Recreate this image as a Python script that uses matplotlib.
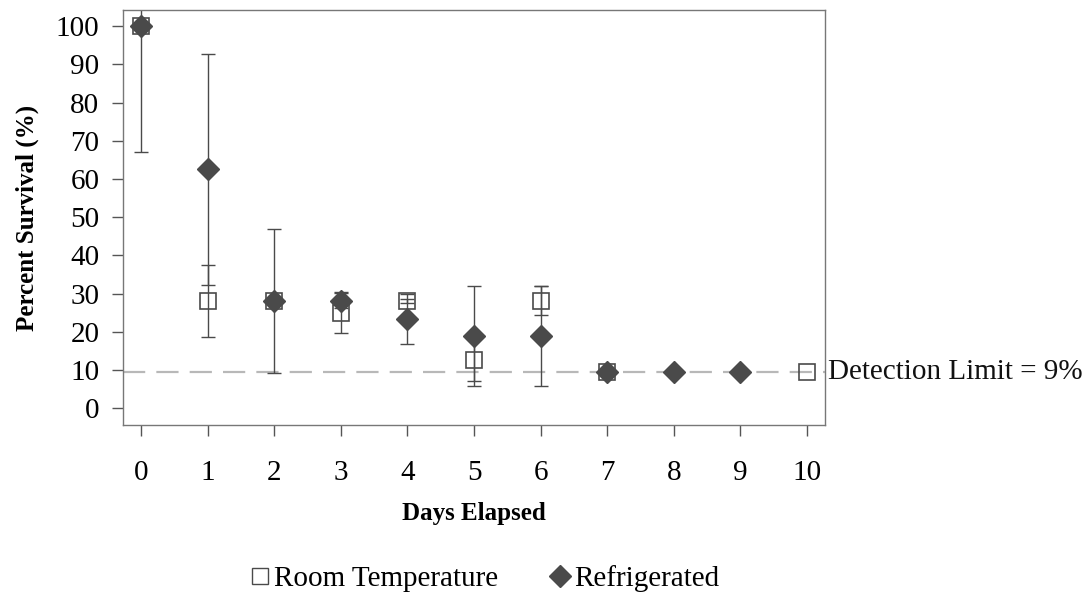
import matplotlib
matplotlib.use("Agg")
import matplotlib.pyplot as plt
from matplotlib.lines import Line2D

plt.rcParams["font.family"] = ["Liberation Serif", "DejaVu Serif"]

# Room temperature series
room_days = [0, 1, 2, 3, 4, 5, 6, 7, 10]
room_pct = [100, 28.1, 28.1, 25.0, 28.1, 12.5, 28.1, 9.4, 9.4]
room_err = [0, 9.4, 0, 5.3, 0.5, 5.5, 3.8, 0, 0]

# Refrigerated series
fridge_days = [0, 1, 2, 3, 4, 5, 6, 7, 8, 9]
fridge_pct = [100, 62.5, 28.1, 28.1, 23.4, 18.8, 18.8, 9.4, 9.4, 9.4]
fridge_err = [33.0, 30.2, 18.8, 2.0, 6.6, 13.1, 13.1, 0, 0, 0]

detection_limit = 9.4
x_ticks = list(range(0, 11))
y_ticks = list(range(0, 101, 10))

fig = plt.figure(figsize=(10.89, 5.94), dpi=100)
ax = fig.add_axes([0.113, 0.2845, 0.6446, 0.6985])

dark = "#4a4a4a"
ax.axhline(detection_limit, color="#b8b8b8", linewidth=1.6, dashes=(10, 5), zorder=1)


def draw_errors(days, pct, err):
    # skip points without a spread so no stray caps get drawn
    keep = [i for i, e in enumerate(err) if e > 0]
    ax.errorbar([days[i] for i in keep], [pct[i] for i in keep],
                yerr=[err[i] for i in keep], fmt="none", ecolor=dark,
                elinewidth=1.0, capsize=5, capthick=1.0, zorder=2)


draw_errors(room_days, room_pct, room_err)
draw_errors(fridge_days, fridge_pct, fridge_err)
ax.plot(room_days, room_pct, linestyle="none", marker="s", markersize=11.5,
        markerfacecolor="none", markeredgecolor=dark, markeredgewidth=1.2, zorder=3)
ax.plot(fridge_days, fridge_pct, linestyle="none", marker="D", markersize=11,
        markerfacecolor=dark, markeredgecolor=dark, zorder=4)

ax.text(10.32, detection_limit, "Detection Limit = 9%", fontsize=21,
        va="center", ha="left", color="#111111")

ax.set_xlim(-0.27, 10.27)
ax.set_ylim(-4.4, 104.2)
ax.set_xticks(x_ticks)
ax.set_yticks(y_ticks)
ax.tick_params(direction="out", length=8, width=1.0, color="#555555",
               labelsize=21)
ax.tick_params(axis="x", pad=17)
ax.tick_params(axis="y", pad=9)
for spine in ax.spines.values():
    spine.set_color("#777777")
    spine.set_linewidth(1.0)

ax.set_xlabel("Days Elapsed", fontsize=18, fontweight="bold", labelpad=12)
ax.set_ylabel("Percent Survival (%)", fontsize=18, fontweight="bold", labelpad=12)

handles = [
    Line2D([], [], linestyle="none", marker="s", markersize=12,
           markerfacecolor="none", markeredgecolor=dark, markeredgewidth=1.0),
    Line2D([], [], linestyle="none", marker="D", markersize=11,
           markerfacecolor=dark, markeredgecolor=dark),
]
fig.legend(handles, ["Room Temperature", "Refrigerated"], loc="center",
           bbox_to_anchor=(0.443, 0.026), ncol=2, frameon=False, fontsize=21,
           handletextpad=0.0, columnspacing=1.6, handlelength=1.0)

fig.savefig("out.png", dpi=100)
